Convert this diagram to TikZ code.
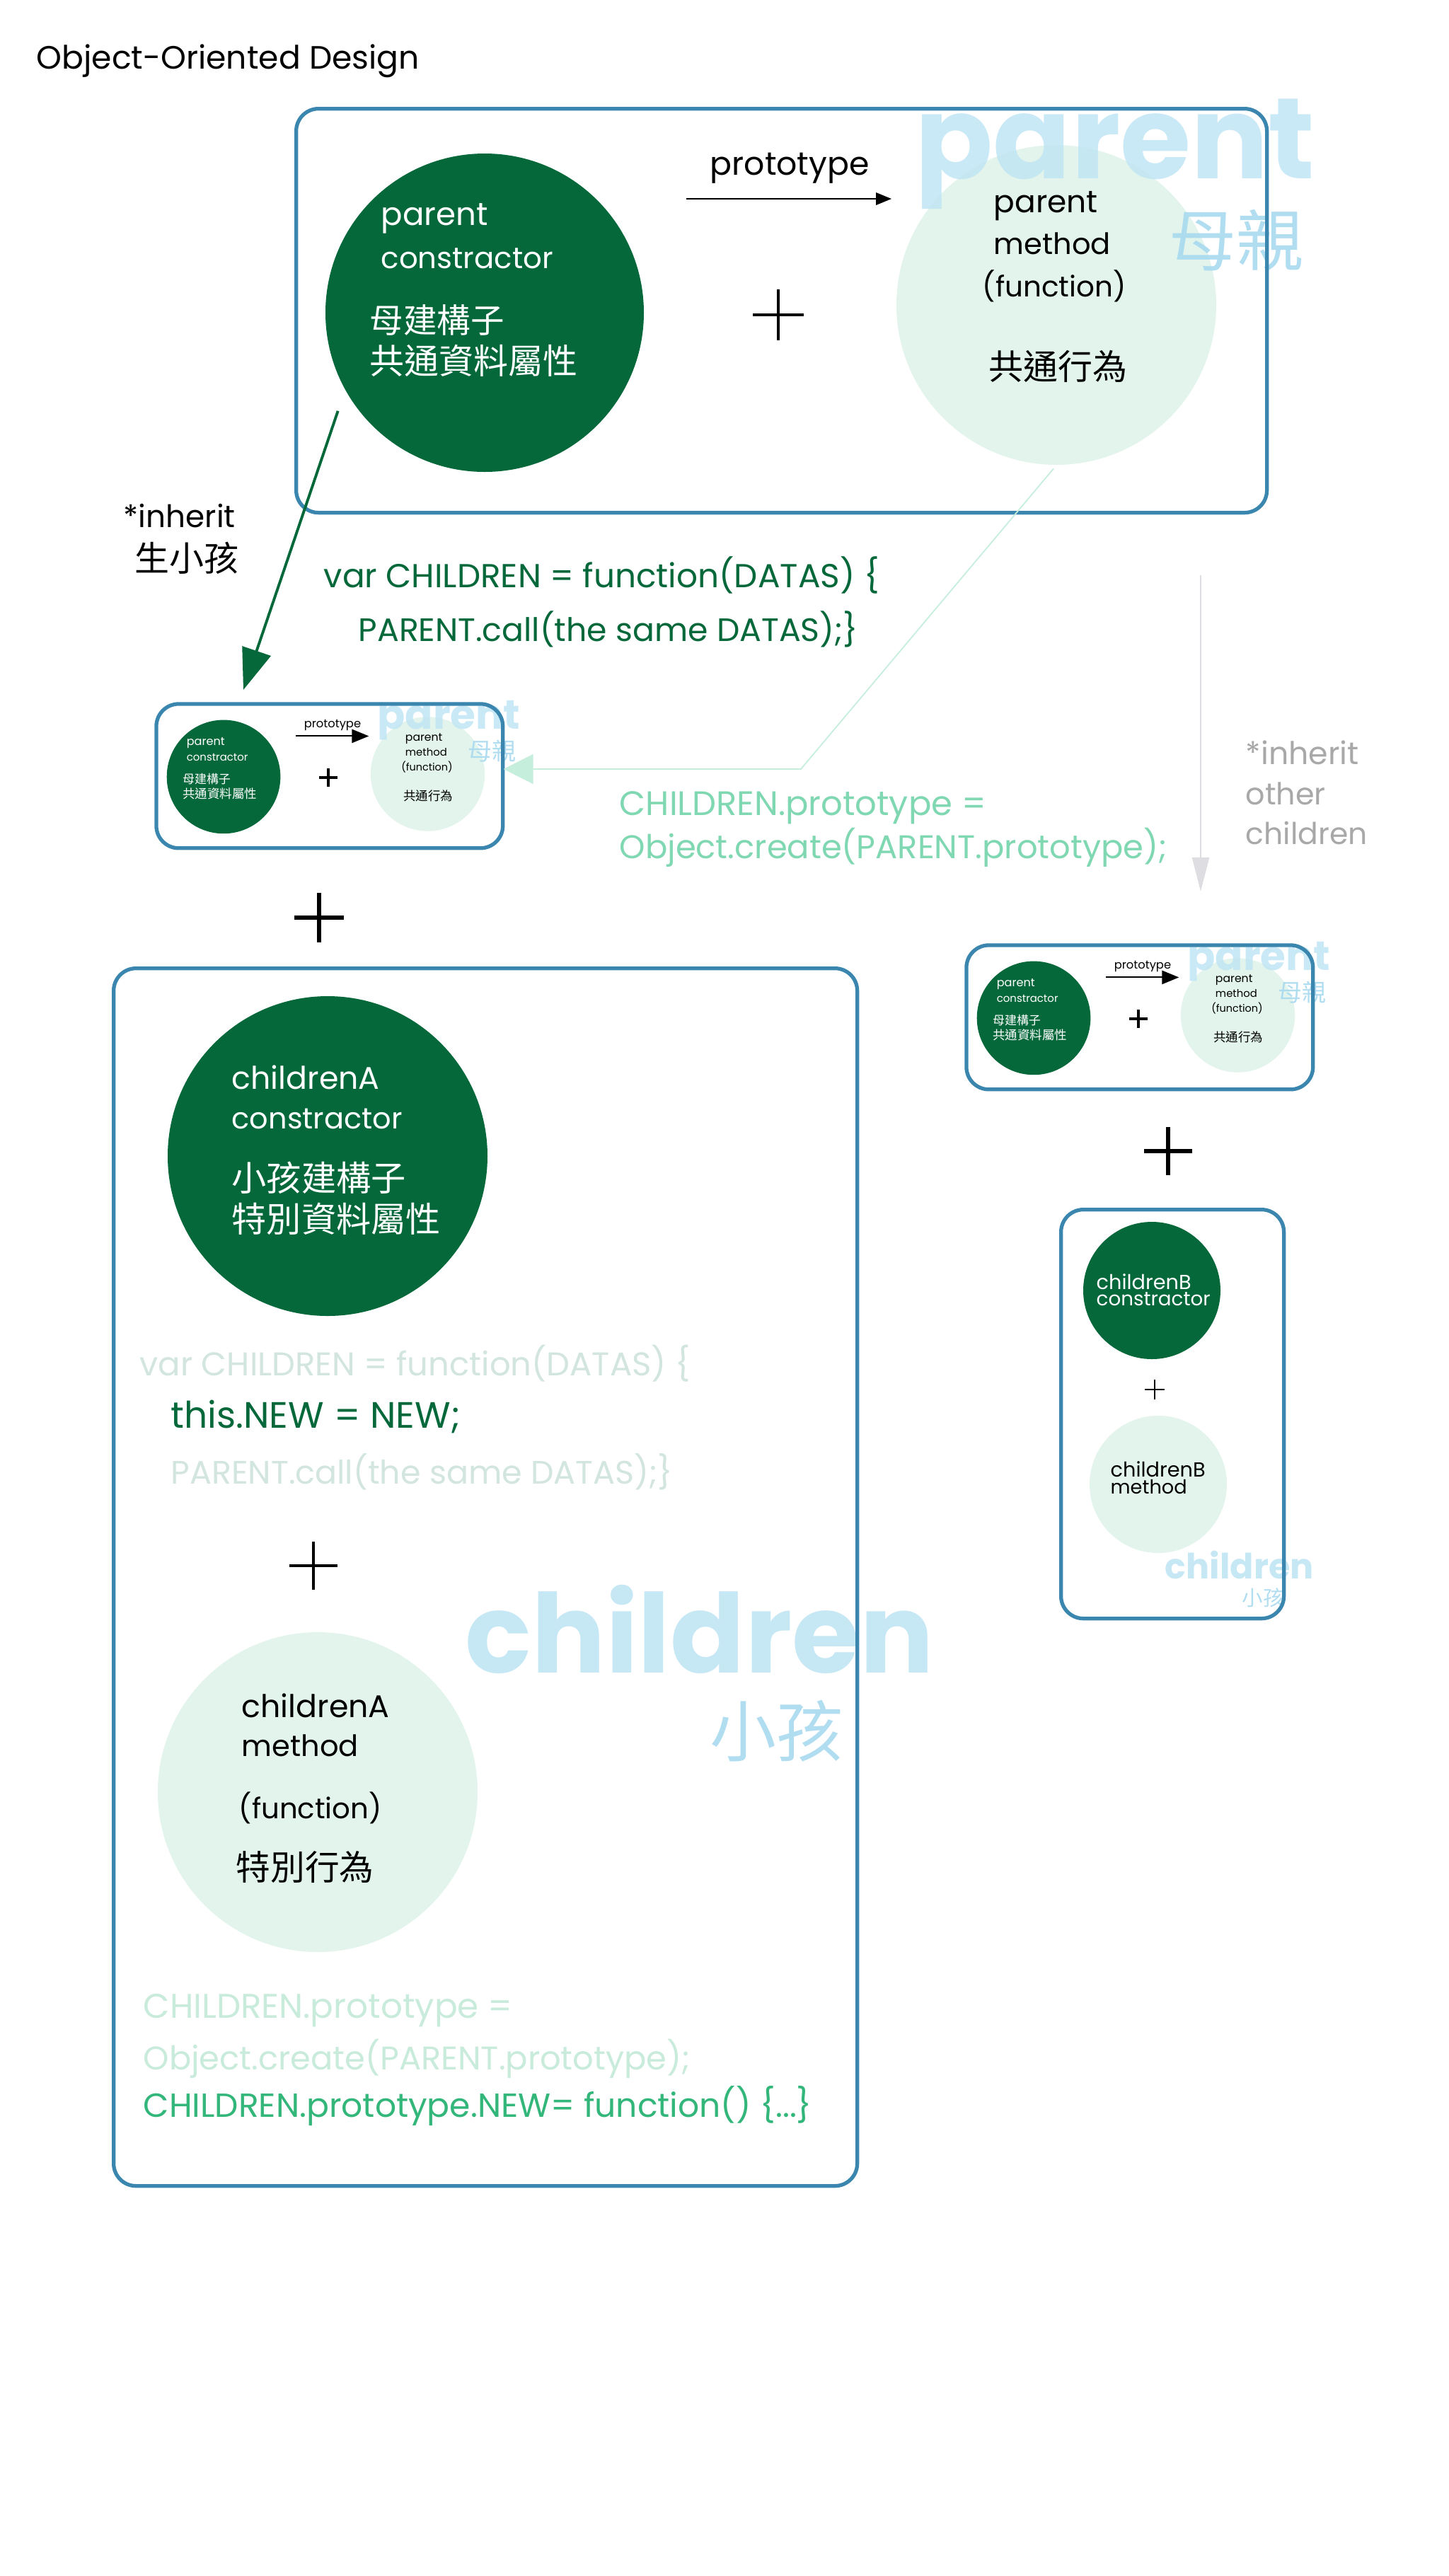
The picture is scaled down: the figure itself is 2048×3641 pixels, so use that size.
\documentclass[tikz,border=0pt]{standalone}
\usepackage{fontspec}
\usepackage{graphicx}
\setmainfont{Poppins}
\newfontfamily\cjk{Noto Sans CJK TC}
\usetikzlibrary{arrows.meta}
\newlength\pxu
\setlength\pxu{0.01cm}
\newcommand\fw[2]{\resizebox{#1\pxu}{!}{#2}}
\definecolor{dgreen}{HTML}{05683A}
\definecolor{lcirc}{HTML}{E2F4EC}
\definecolor{wblue}{HTML}{BDE4F4}
\definecolor{wblue2}{HTML}{A9DAF0}
\definecolor{boxblue}{HTML}{3A86AE}
\definecolor{codelight}{HTML}{D2E5DF}
\definecolor{codemint}{HTML}{80D8B2}
\definecolor{codepale}{HTML}{C8EBDB}
\definecolor{codegreen}{HTML}{33B679}
\definecolor{arrowgray}{HTML}{DEDEE2}
\definecolor{textgray}{HTML}{A8A8A8}
\definecolor{mintline}{HTML}{C6EEDD}
\tikzset{
  txt/.style={inner sep=0, anchor=west},
  boxframe/.style={draw=boxblue, line width=1.5pt, rounded corners=9pt, inner sep=0},
  circ/.style={circle, inner sep=0, minimum size=#1\pxu},
  pluslw/.style={line width=#1pt, line cap=butt},
  parentbox/.pic={
    \pgfmathsetmacro\tipL{#1*0.01}
    \pgfmathsetmacro\tipW{0.8*#1*0.01}
    \pgfmathsetmacro\alw{#1/40}
    \node[circ=452, fill=lcirc] (-pm) at (1077,280) {};
    \node[txt, anchor=base west, text=wblue, opacity=0.8] (-wm) at (877,101) {\fw{565}{\bfseries parent}};
    \node[txt, text=wblue2, opacity=0.9] (-wm2) at (1236,189) {\fw{190}{\cjk 母親}};
    \node[circ=450, fill=dgreen] (-pc) at (269,291) {};
    \node[boxframe, minimum width=1372\pxu, minimum height=571\pxu, anchor=north west] (-frame) at (0,0) {};
    \node[txt, text=white] (-t1) at (122,158) {\fw{151}{parent}};
    \node[txt, text=white] (-t2) at (122,214) {\fw{243}{constractor}};
    \node[txt, text=white] (-t3) at (106,301) {\fw{190}{\cjk 母建構子}};
    \node[txt, text=white] (-t4) at (106,359) {\fw{294}{\cjk 共通資料屬性}};
    \node[txt] (-t5) at (988,140) {\fw{147}{parent}};
    \node[txt] (-t6) at (988,193) {\fw{165}{method}};
    \node[txt] (-t7) at (972,253) {\fw{203}{(function)}};
    \node[txt] (-t8) at (981,367) {\fw{196}{\cjk 共通行為}};
    \node[txt] (-t9) at (587,87) {\fw{225}{prototype}};
    \coordinate (-a0) at (554,130);
    \coordinate (-a1) at (844,130);
    \draw[line width=\alw pt, -{Triangle[length=\tipL cm, width=\tipW cm]}] (-a0) -- (-a1);
    \draw[pluslw=\alw*2] (648,294) -- (720,294) (684,258) -- (684,330);
  }
}
\begin{document}
\begin{tikzpicture}[x=0.01cm, y=-0.01cm]
\useasboundingbox (0,0) rectangle (2048,3641);
\fill[white] (0,0) rectangle (2048,3641);

% title
\node[txt] (title) at (51,86) {\fw{541}{Object-Oriented Design}};

% parent box
\pic (top) at (416,151) {parentbox=22};

% small copies
\begin{scope}[shift={(220,994)}, scale=0.357, transform shape]
  \pic (sbA) at (0,0) {parentbox=24};
\end{scope}
\begin{scope}[shift={(1365,1335)}, scale=0.357, transform shape]
  \pic (sbB) at (0,0) {parentbox=24};
\end{scope}

% inherit arrow (dark green)
\coordinate (inhTip) at (344,975);
\draw[dgreen, line width=1.1pt, shorten <=0.31cm, -{Triangle[length=0.58cm, width=0.42cm]}] (top-pc.209) -- (inhTip);
\node[txt] (inh1) at (174,729) {\fw{158}{*inherit}};
\node[txt] (inh2) at (190,789) {\fw{147}{\cjk 生小孩}};

% code under parent box
\node[txt, text=dgreen] (code1) at (457,813) {\fw{785}{var CHILDREN = function(DATAS) \{}};
\node[txt, text=dgreen] (code2) at (506,889) {\fw{706}{PARENT.call(the same DATAS);\}}};

% prototype link (mint)
\coordinate (bendA) at (1132,1087);
\draw[mintline, line width=0.5pt, shorten <=0.06cm, -{Triangle[length=0.42cm, width=0.42cm]}] (top-pm.south) -- (bendA) -- (bendA -| sbA-frame.east);
\node[txt, text=codemint] (code3) at (875,1142) {\fw{518}{CHILDREN.prototype =}};
\node[txt, text=codemint] (code4) at (875,1198) {\fw{774}{Object.create(PARENT.prototype);}};

% gray inherit arrow
\coordinate (gTop) at (1697,813);
\coordinate (gTip) at (1697,1260);
\draw[arrowgray, line width=0.6pt, -{Triangle[length=0.48cm, width=0.24cm]}] (gTop) -- (gTip);
\node[txt, anchor=base west, text=textgray] (oth1) at (1760,1080) {\fw{160}{*inherit}};
\node[txt, anchor=base west, text=textgray] (oth2) at (1760,1137) {\fw{113}{other}};
\node[txt, anchor=base west, text=textgray] (oth3) at (1760,1193) {\fw{172}{children}};

% big pluses
\draw[pluslw=1.8] (416,1297) -- (486,1297) (451,1262) -- (451,1332);
\draw[pluslw=1.8] (1617,1627) -- (1685,1627) (1651,1593) -- (1651,1661);

% children A box
\node[txt, anchor=base west, text=wblue, opacity=0.85] (wmc) at (657,2364) {\fw{662}{\bfseries children}};
\node[txt, text=wblue2, opacity=0.9] (wmc2) at (1003,2447) {\fw{188}{\cjk 小孩}};
\node[boxframe, minimum width=1051\pxu, minimum height=1721\pxu, anchor=north west] (boxA) at (158,1366) {};
\node[circ=452, fill=dgreen] (caC) at (463,1634) {};
\node[txt, text=white] (ca1) at (327,1523) {\fw{209}{childrenA}};
\node[txt, text=white] (ca2) at (327,1581) {\fw{241}{constractor}};
\node[txt, text=white] (ca3) at (327,1665) {\fw{246}{\cjk 小孩建構子}};
\node[txt, text=white] (ca4) at (327,1723) {\fw{295}{\cjk 特別資料屬性}};
\node[txt, text=codelight] (ca5) at (197,1927) {\fw{778}{var CHILDREN = function(DATAS) \{}};
\node[txt, text=dgreen] (ca6) at (241,2002) {\fw{409}{this.NEW = NEW;}};
\node[txt, text=codelight] (ca7) at (241,2080) {\fw{709}{PARENT.call(the same DATAS);\}}};
\draw[pluslw=1.2] (409,2213) -- (477,2213) (443,2179) -- (443,2247);
\node[circ=452, fill=lcirc] (maC) at (449,2533) {};
\node[txt] (ma1) at (341,2411) {\fw{209}{childrenA}};
\node[txt] (ma2) at (341,2467) {\fw{165}{method}};
\node[txt] (ma3) at (337,2555) {\fw{202}{(function)}};
\node[txt] (ma4) at (333,2639) {\fw{195}{\cjk 特別行為}};
\node[txt, text=codepale] (ca8) at (202,2842) {\fw{522}{CHILDREN.prototype =}};
\node[txt, text=codepale] (ca9) at (202,2910) {\fw{773}{Object.create(PARENT.prototype);}};
\node[txt, text=codegreen] (ca10) at (202,2977) {\fw{945}{CHILDREN.prototype.NEW= function() \{...\}}};

% children B box
\node[txt, anchor=base west, text=wblue, opacity=0.85] (wmb) at (1646,2231) {\fw{210}{\bfseries children}};
\node[txt, text=wblue2, opacity=0.9] (wmb2) at (1755,2258) {\fw{59}{\cjk 小孩}};
\node[boxframe, minimum width=315\pxu, minimum height=578\pxu, anchor=north west] (boxB) at (1497,1707) {};
\node[circ=194, fill=dgreen] (cbC) at (1628,1824) {};
\node[txt, text=white] (cb1) at (1549,1812) {\fw{134}{childrenB}};
\node[txt, text=white] (cb2) at (1549,1836) {\fw{161}{constractor}};
\draw[pluslw=0.8] (1618,1964) -- (1646,1964) (1632,1950) -- (1632,1978);
\node[circ=194, fill=lcirc] (mbC) at (1637,2098) {};
\node[txt] (mb1) at (1569,2077) {\fw{134}{childrenB}};
\node[txt] (mb2) at (1569,2102) {\fw{108}{method}};
\end{tikzpicture}
\end{document}
